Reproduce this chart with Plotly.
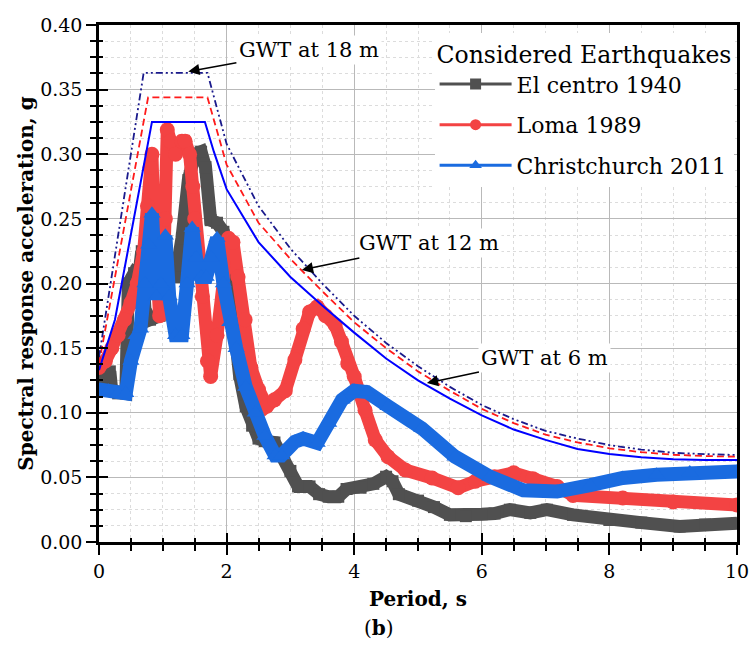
import plotly.graph_objects as go

# ---------------- data ----------------
# Design spectra (GWT depths)
t_6m = [0, 0.25, 0.83, 1.66, 1.8, 2.0, 2.5, 3.0, 3.5, 4.0, 4.5, 5.0, 5.5, 6.0, 6.5, 7.0, 7.5, 8.0, 8.5, 9.0, 9.5, 10]
sa_6m = [0.133, 0.172, 0.325, 0.325, 0.302, 0.273, 0.232, 0.205, 0.183, 0.162, 0.142, 0.125, 0.111, 0.098, 0.087,
         0.079, 0.072, 0.068, 0.0655, 0.064, 0.0635, 0.0635]

t_12m = [0, 0.77, 1.70, 1.85, 2.0, 2.5, 3.0, 3.5, 4.0, 4.5, 5.0, 5.5, 6.0, 6.5, 7.0, 7.5, 8.0, 8.5, 9.0, 9.5, 10]
sa_12m = [0.138, 0.344, 0.344, 0.318, 0.292, 0.247, 0.219, 0.194, 0.170, 0.150, 0.132, 0.117, 0.103, 0.092, 0.083,
          0.077, 0.0725, 0.0695, 0.0675, 0.0665, 0.066]

t_18m = [0, 0.70, 1.70, 1.85, 2.0, 2.5, 3.0, 3.5, 4.0, 4.5, 5.0, 5.5, 6.0, 6.5, 7.0, 7.5, 8.0, 8.5, 9.0, 9.5, 10]
sa_18m = [0.143, 0.363, 0.363, 0.335, 0.308, 0.260, 0.227, 0.200, 0.175, 0.154, 0.136, 0.120, 0.106, 0.095, 0.086,
          0.080, 0.075, 0.0715, 0.069, 0.068, 0.0673]

# El centro 1940
t_elc = [0, 0.1, 0.17, 0.2, 0.3, 0.42, 0.46, 0.55, 0.62, 0.67, 0.72, 0.8, 0.95, 1.02, 1.1, 1.2, 1.3, 1.4, 1.5, 1.6,
         1.67, 1.75, 1.85, 1.95, 2.0, 2.05, 2.1, 2.2, 2.3, 2.4, 2.5, 2.6, 2.75, 2.85, 3.0, 3.12, 3.3, 3.45, 3.6, 3.75,
         3.88, 4.1, 4.3, 4.5, 4.6, 4.7, 5.0, 5.25, 5.5, 5.75, 6.0, 6.2, 6.44, 6.76, 7.02, 7.43, 8.0, 8.5, 9.1, 9.5, 10]
sa_elc = [0.122, 0.128, 0.132, 0.117, 0.115, 0.115, 0.2, 0.208, 0.205, 0.225, 0.18, 0.172, 0.175, 0.2, 0.21, 0.205,
          0.235, 0.28, 0.3, 0.302, 0.29, 0.249, 0.247, 0.24, 0.225, 0.2, 0.165, 0.13, 0.105, 0.09, 0.08, 0.078, 0.077,
          0.068, 0.055, 0.043, 0.043, 0.037, 0.035, 0.035, 0.041, 0.042, 0.045, 0.0505, 0.047, 0.037, 0.032, 0.027,
          0.021, 0.02, 0.0215, 0.022, 0.025, 0.0225, 0.025, 0.021, 0.017, 0.015, 0.012, 0.0135, 0.0145]

# Loma 1989
t_loma = [0, 0.1, 0.2, 0.3, 0.4, 0.5, 0.6, 0.7, 0.76, 0.8, 0.83, 0.86, 0.9, 0.95, 1.0, 1.04, 1.07, 1.12, 1.2, 1.3,
          1.35, 1.42, 1.47, 1.5, 1.55, 1.62, 1.7, 1.75, 1.85, 1.95, 2.03, 2.1, 2.18, 2.29, 2.38, 2.5, 2.63, 2.75, 2.92,
          3.07, 3.2, 3.3, 3.42, 3.55, 3.7, 3.8, 3.9, 4.0, 4.17, 4.33, 4.53, 4.8, 5.22, 5.63, 5.9, 6.2, 6.5, 6.8, 7.18,
          7.43, 8.21, 9.0, 10]
sa_loma = [0.135, 0.14, 0.15, 0.16, 0.172, 0.185, 0.2, 0.225, 0.26, 0.29, 0.3, 0.25, 0.2, 0.175, 0.185, 0.25, 0.319,
           0.31, 0.3, 0.31, 0.31, 0.3, 0.275, 0.25, 0.21, 0.19, 0.14, 0.128, 0.16, 0.215, 0.235, 0.232, 0.205, 0.172,
           0.135, 0.118, 0.105, 0.11, 0.117, 0.141, 0.165, 0.178, 0.182, 0.175, 0.168, 0.155, 0.138, 0.128, 0.102,
           0.079, 0.066, 0.0557, 0.0495, 0.042, 0.047, 0.0505, 0.0535, 0.049, 0.043, 0.036, 0.034, 0.031, 0.0286]

# Christchurch 2011
t_chc = [0, 0.15, 0.3, 0.42, 0.5, 0.58, 0.65, 0.72, 0.78, 0.83, 0.9, 0.97, 1.04, 1.1, 1.2, 1.3, 1.38, 1.46, 1.52,
         1.6, 1.68, 1.76, 1.85, 1.95, 2.05, 2.15, 2.3, 2.45, 2.6, 2.76, 2.86, 3.07, 3.2, 3.42, 3.6, 3.81, 4.0, 4.2,
         4.53, 5.06, 5.58, 6.13, 6.65, 7.18, 7.7, 8.21, 8.74, 9.26, 10]
sa_chc = [0.118, 0.117, 0.115, 0.115, 0.14, 0.16, 0.165, 0.2, 0.23, 0.254, 0.19, 0.2, 0.237, 0.19, 0.16, 0.16, 0.2,
          0.243, 0.22, 0.205, 0.205, 0.22, 0.235, 0.2, 0.17, 0.15, 0.12, 0.1, 0.082, 0.067, 0.067, 0.0776, 0.08,
          0.0766, 0.092, 0.11, 0.117, 0.116, 0.105, 0.088, 0.066, 0.0505, 0.040, 0.039, 0.044, 0.0495, 0.052, 0.0537,
          0.0545]

x_ticks = [0, 2, 4, 6, 8, 10]
y_ticks = [0.00, 0.05, 0.10, 0.15, 0.20, 0.25, 0.30, 0.35, 0.40]
y_tick_text = ["%.2f" % v for v in y_ticks]

# ---------------- styles ----------------
C_ELC = "#505050"
C_LOMA = "#f34343"
C_CHC = "#1a6be0"
SERIF = "DejaVu Serif"

fig = go.Figure()

# earthquake records (thick banded lines with dense markers)
fig.add_trace(go.Scatter(x=t_elc, y=sa_elc, mode="lines+markers", showlegend=False,
                         line=dict(color=C_ELC, width=13), marker=dict(symbol="square", size=12, color=C_ELC)))
fig.add_trace(go.Scatter(x=t_loma, y=sa_loma, mode="lines+markers", showlegend=False,
                         line=dict(color=C_LOMA, width=13), marker=dict(symbol="circle", size=15, color=C_LOMA)))
fig.add_trace(go.Scatter(x=t_chc, y=sa_chc, mode="lines+markers", showlegend=False,
                         line=dict(color=C_CHC, width=14), marker=dict(symbol="triangle-up", size=15, color=C_CHC)))

# design spectra
fig.add_trace(go.Scatter(x=t_6m, y=sa_6m, mode="lines", showlegend=False,
                         line=dict(color="#0000ff", width=2)))
fig.add_trace(go.Scatter(x=t_12m, y=sa_12m, mode="lines", showlegend=False,
                         line=dict(color="#ff1a1a", width=1.8, dash="7px,4px")))
fig.add_trace(go.Scatter(x=t_18m, y=sa_18m, mode="lines", showlegend=False,
                         line=dict(color="#1a1a8c", width=1.8, dash="7px,3px,2px,3px,2px,3px")))

# legend entries
for name, col, sym in [("El centro 1940", C_ELC, "square"),
                       ("Loma 1989", C_LOMA, "circle"),
                       ("Christchurch 2011", C_CHC, "triangle-up")]:
    fig.add_trace(go.Scatter(x=[None], y=[None], mode="lines+markers", name=name, legendgroup=name,
                             line=dict(color=col, width=3), marker=dict(symbol=sym, size=11, color=col)))

# overlay axes for inward tick marks
fig.add_trace(go.Scatter(x=[None], y=[None], xaxis="x2", yaxis="y2", showlegend=False, hoverinfo="skip"))

axis_common = dict(showline=True, linecolor="black", linewidth=2.5, mirror=True, automargin=False,
                   ticks="outside", ticklen=10, tickwidth=2, tickcolor="black", ticklabeloverflow="allow",
                   gridcolor="#b9b9b9", gridwidth=1, zeroline=False,
                   tickfont=dict(family=SERIF, size=19, color="black"))

fig.update_layout(
    width=749, height=648,
    margin=dict(l=99, r=12, t=25, b=106),
    paper_bgcolor="white", plot_bgcolor="white",
    xaxis=dict(range=[0, 10], tickvals=x_ticks, ticktext=[str(v) for v in x_ticks],
               minor=dict(dtick=0.5, ticks="outside", ticklen=6, tickwidth=1.5, tickcolor="black",
                          showgrid=True, gridcolor="#dcdcdc", griddash="dot", gridwidth=1),
               title=dict(text="<b>Period, s</b>", font=dict(family=SERIF, size=20, color="black"), standoff=12),
               **axis_common),
    yaxis=dict(range=[0, 0.40], tickvals=y_ticks, ticktext=y_tick_text,
               minor=dict(dtick=0.0125, ticks="outside", ticklen=6, tickwidth=1.5, tickcolor="black",
                          showgrid=True, gridcolor="#dcdcdc", griddash="dot", gridwidth=1),
               title=dict(text="<b>Spectral response acceleration, g</b>",
                          font=dict(family=SERIF, size=20, color="black"), standoff=2),
               **axis_common),
    xaxis2=dict(range=[0, 10], overlaying="x", anchor="y2", side="bottom", tickvals=x_ticks, automargin=False,
                showticklabels=False, ticks="inside", ticklen=9, tickwidth=2, tickcolor="black",
                showgrid=False, zeroline=False, showline=False,
                minor=dict(dtick=0.5, ticks="inside", ticklen=4, tickwidth=1.5, tickcolor="black")),
    yaxis2=dict(range=[0, 0.40], overlaying="y", anchor="x2", side="left", tickvals=y_ticks, automargin=False,
                showticklabels=False, ticks="inside", ticklen=9, tickwidth=2, tickcolor="black",
                showgrid=False, zeroline=False, showline=False,
                minor=dict(dtick=0.0125, ticks="inside", ticklen=4, tickwidth=1.5, tickcolor="black")),
    legend=dict(x=0.526, y=0.985, xanchor="left", yanchor="top", bgcolor="white", borderwidth=0,
                font=dict(family=SERIF, size=22, color="black"),
                title=dict(text="Considered Earthquakes", font=dict(family=SERIF, size=23.5, color="black")),
                tracegroupgap=9, itemwidth=72),
    showlegend=True,
)

ann_font = dict(family=SERIF, size=21, color="black")
for txt, tip_x, tip_y, tx, ty in [("GWT at 18 m", 1.40, 0.364, 3.29, 0.381),
                                  ("GWT at 12 m", 3.18, 0.2105, 5.17, 0.231),
                                  ("GWT at 6 m", 5.14, 0.123, 6.99, 0.1425)]:
    fig.add_annotation(x=tip_x, y=tip_y, ax=tx, ay=ty, axref="x", ayref="y", xref="x", yref="y",
                       text=txt, font=ann_font, showarrow=True, arrowhead=2, arrowsize=1.4, arrowwidth=1.6,
                       arrowcolor="black", bgcolor="white", borderpad=2)

fig.add_annotation(x=0.439, y=-0.166, xref="paper", yref="paper", text="(<b>b</b>)", showarrow=False,
                   font=dict(family=SERIF, size=20, color="black"), xanchor="center", yanchor="middle")

fig.write_html("out.html")
